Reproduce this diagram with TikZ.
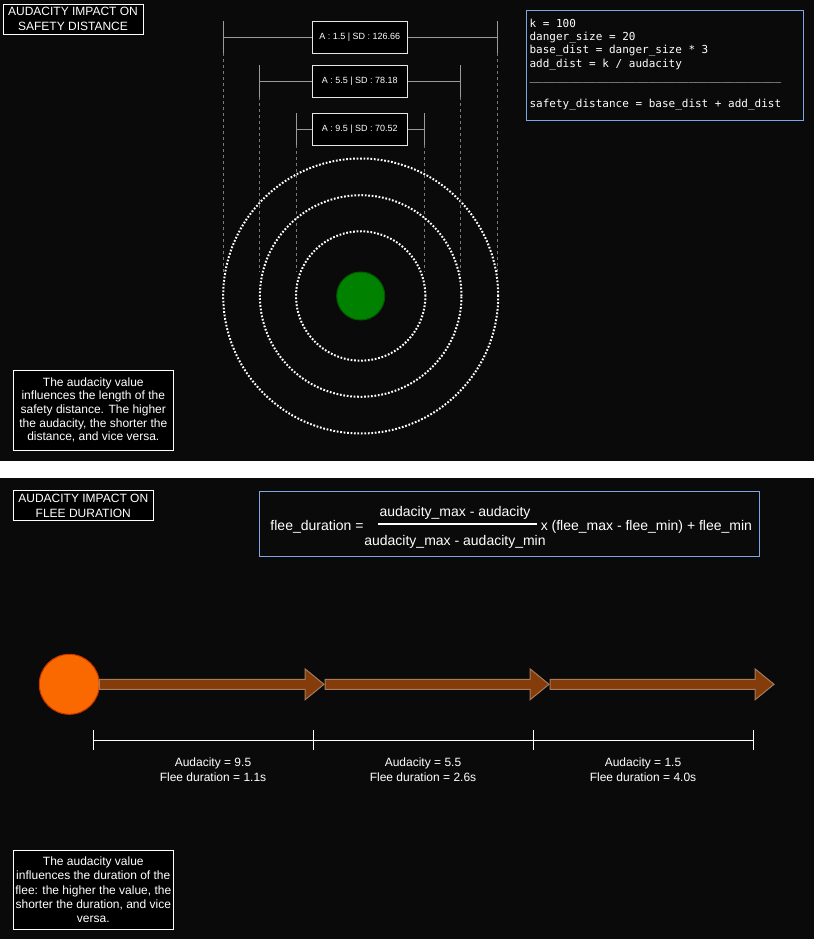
\documentclass[tikz,border=0pt]{standalone}
\usepackage{fontspec}
\setmainfont{Liberation Sans}
\newfontfamily\codefont{DejaVu Sans Mono}
\usetikzlibrary{calc}
\definecolor{bgdark}{HTML}{0A0A0A}
\definecolor{dimgray}{HTML}{9A9A9A}
\definecolor{guidegray}{HTML}{7A7A7A}
\definecolor{labelborder}{HTML}{E6E6E6}
\definecolor{codeblue}{HTML}{7EA6E0}
\definecolor{dangergreen}{HTML}{008200}
\definecolor{dangeredge}{HTML}{005A00}
\definecolor{fleeorange}{HTML}{FA6800}
\definecolor{fleeedge}{HTML}{C73500}
\definecolor{arrowfill}{HTML}{843C0A}
\definecolor{arrowedge}{HTML}{A57B5C}
\begin{document}
\begin{tikzpicture}[x=0.75pt,y=-0.75pt,
  titlebox/.style={draw=white, line width=0.75pt, fill=black, text=white, inner sep=0pt,
    minimum width=105pt, minimum height=22.5pt, align=center,
    font=\fontsize{9}{11}\selectfont},
  notebox/.style={draw=white, line width=0.75pt, fill=black, text=white, inner sep=0pt,
    minimum width=120pt, align=center},
  dimline/.style={draw=dimgray, line width=0.75pt},
  guide/.style={draw=guidegray, line width=0.75pt, dash pattern=on 2.25pt off 2.25pt},
  dimlabel/.style={draw=labelborder, line width=1pt, fill=black, text=white, inner sep=0pt,
    minimum width=71.25pt, minimum height=24pt, font=\fontsize{6.75}{8}\selectfont},
  ring/.style={circle, draw=white, line width=1.5pt, dash pattern=on 1.3pt off 1.3pt,
    inner sep=0pt},
  formula/.style={text=white, inner sep=0pt, font=\fontsize{10.5}{12}\selectfont},
  bracket/.style={draw=white, line width=0.75pt},
  steplabel/.style={text=white, inner sep=0pt, align=center, font=\fontsize{9}{11}\selectfont},
  fleearrow/.style={fill=arrowfill, draw=arrowedge, line width=0.75pt, line join=miter}
]
\useasboundingbox (0,0) rectangle (814,939);
% backgrounds of the two panels and the separator band
\fill[bgdark] (0,0) rectangle (814,939);
\fill[white] (0,461) rectangle (814,478);

%% ---------- upper panel: safety distance ----------
\node[titlebox] (title1) at (73,19) {AUDACITY IMPACT ON\\SAFETY DISTANCE};

% danger and its three safety rings
\node[circle, fill=dangergreen, draw=dangeredge, line width=0.75pt, minimum size=36pt, inner sep=0pt] (danger) at (360.7,296) {};
\node[ring, minimum size=97pt] (ringA) at (danger) {};
\node[ring, minimum size=151.2pt] (ringB) at (danger) {};
\node[ring, minimum size=206.25pt] (ringC) at (danger) {};

% dimension ends
\coordinate (guideend) at (0,272);
\coordinate (d1l) at (223.3,37.3);  \coordinate (d1r) at (497.3,37.3);
\coordinate (d2l) at (259.3,81.3);  \coordinate (d2r) at (460,81.3);
\coordinate (d3l) at (296,129.3);   \coordinate (d3r) at (424.7,129.3);

\node[dimlabel] (sd1) at (359.8,37.3) {A : 1.5 | SD : 126.66};
\node[dimlabel] (sd2) at (359.8,81.3) {A : 5.5 | SD : 78.18};
\node[dimlabel] (sd3) at (359.8,129.3) {A : 9.5 | SD : 70.52};

\foreach \i in {1,2,3} {
  \draw[dimline] (d\i l) -- (sd\i.west);
  \draw[dimline] (sd\i.east) -- (d\i r);
  \draw[dimline] (d\i l) ++(0,-16) -- ++(0,32);
  \draw[dimline] (d\i r) ++(0,-16) -- ++(0,32);
  \draw[guide] ($(d\i l)+(0,16)$) -- (d\i l |- guideend);
  \draw[guide] ($(d\i r)+(0,16)$) -- (d\i r |- guideend);
}

% parameters of the safety distance
\node[draw=codeblue, line width=0.75pt, anchor=north west, inner sep=0pt,
  minimum width=207.75pt, minimum height=82.5pt] (codebox) at (526,10) {};
\node[anchor=north west, inner sep=0pt, align=left, text=white,
  font=\codefont\fontsize{8.25}{10}\selectfont] (code) at (529.3,18.6)
  {k = 100\\
   danger\_size = 20\\
   base\_dist = danger\_size * 3\\
   add\_dist = k / audacity\\
   \_\_\_\_\_\_\_\_\_\_\_\_\_\_\_\_\_\_\_\_\_\_\_\_\_\_\_\_\_\_\_\_\_\_\_\_\_\_\\[10pt]
   safety\_distance = base\_dist + add\_dist};

\node[notebox, minimum height=60pt, font=\fontsize{9}{10.2}\selectfont] (note1) at (93.3,410)
  {The audacity value\\influences the length of the\\safety distance. The higher\\the audacity, the shorter the\\distance, and vice versa.};

%% ---------- lower panel: flee duration ----------
\node[titlebox] (title2) at (83.3,505.7) {AUDACITY IMPACT ON\\FLEE DURATION};

\node[draw=codeblue, line width=0.75pt, inner sep=0pt, minimum width=375.2pt,
  minimum height=48.75pt] (formulabox) at (509.2,524.2) {};
\node[formula, anchor=base] (lhs) at (317,530) {flee\_duration =};
\node[formula, anchor=base] (num) at (455,516.7) {audacity\_max - audacity};
\node[formula, anchor=base] (den) at (455,545) {audacity\_max - audacity\_min};
\coordinate (barl) at (378.3,524.3);
\coordinate (barr) at (536.7,524.3);
\draw[white, line width=1.4pt] (barl) -- (barr);
\node[formula, anchor=base] (rhs) at (646.4,530) {x (flee\_max - flee\_min) + flee\_min};

% the fleeing agent and its three flee stages
\node[circle, fill=fleeorange, draw=fleeedge, line width=0.75pt, minimum size=45pt, inner sep=0pt] (agent) at (69.3,684.3) {};
\foreach \a/\b in {99.3/324, 325/549, 550/774} {
  \draw[fleearrow] (\a,679.3) -- (\b-19,679.3) -- (\b-19,668.8) -- (\b,684.3)
    -- (\b-19,699.8) -- (\b-19,689.3) -- (\a,689.3) -- cycle;
}

% time scale below the arrows
\coordinate (t0) at (93.3,740);
\coordinate (t1) at (313.3,740);
\coordinate (t2) at (533.3,740);
\coordinate (t3) at (753.3,740);
\draw[bracket] (t0) -- (t3);
\foreach \t in {t0,t1,t2,t3} { \draw[bracket] (\t) ++(0,-10) -- ++(0,20); }

\node[steplabel] (stage1) at (213,770) {Audacity = 9.5\\Flee duration = 1.1s};
\node[steplabel] (stage2) at (423,770) {Audacity = 5.5\\Flee duration = 2.6s};
\node[steplabel] (stage3) at (643,770) {Audacity = 1.5\\Flee duration = 4.0s};

\node[notebox, minimum height=59.5pt, font=\fontsize{9}{10.6}\selectfont] (note2) at (93.3,889.7)
  {The audacity value\\influences the duration of the\\flee: the higher the value, the\\shorter the duration, and vice\\versa.};
\end{tikzpicture}
\end{document}
